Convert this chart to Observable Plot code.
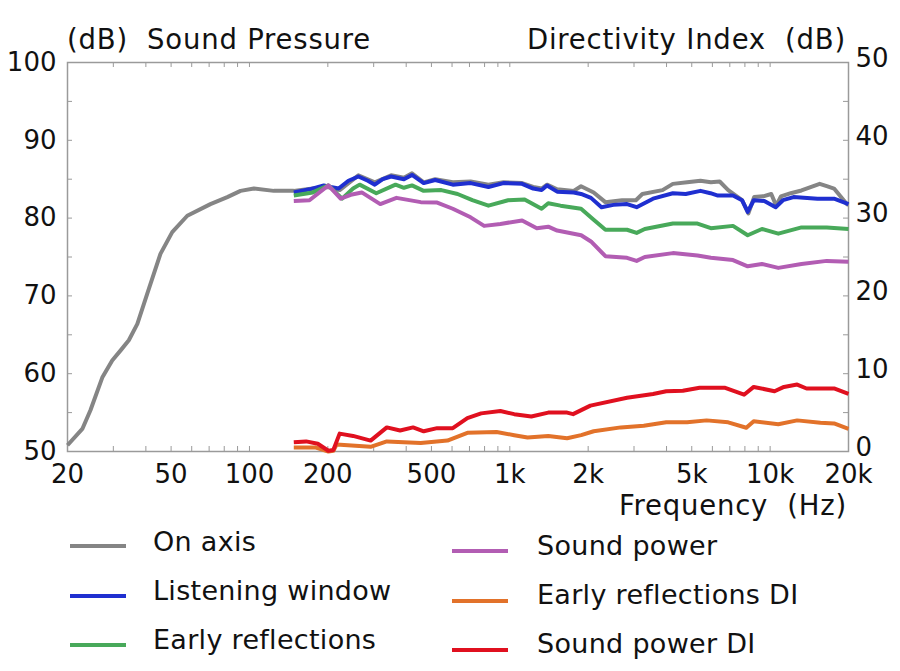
<!DOCTYPE html>
<html>
<head>
<meta charset="utf-8">
<script src="https://cdn.jsdelivr.net/npm/d3@7"></script>
<script src="https://cdn.jsdelivr.net/npm/@observablehq/plot@0.6"></script>
<style>
  html, body { margin: 0; padding: 0; background: #fff; }
  #wrap { position: relative; width: 900px; height: 671px; font-family: "DejaVu Sans", Verdana, sans-serif; color: #111; }
  .lbl { position: absolute; font-size: 27px; white-space: pre; line-height: 1; }
  .ttl { font-size: 27.5px; letter-spacing: 0.8px; }
  .leg { letter-spacing: 0.3px; }
  .sw { position: absolute; height: 4px; width: 56px; }
</style>
</head>
<body>
<div id="wrap"></div>
<script>
// ---- data (frequency Hz, level dB) ----
const onAxis = [[20,50.8],[22.8,52.9],[24.5,55.3],[27.2,59.5],[29.7,61.7],[32,63],[34.4,64.3],[37.1,66.4],[40.5,70.3],[45.5,75.4],[50.5,78.2],[57.7,80.3],[70.8,81.8],[82.2,82.7],[92.4,83.5],[104,83.8],[124,83.5],[148,83.5],[175,83.8],[200,84.0],[222,83.6],[262,85.5],[303,84.6],[350,85.5],[392,85.2],[421,85.75],[467,84.6],[517,85.0],[604,84.6],[707,84.7],[828,84.3],[945,84.6],[1115,84.5],[1230,84.0],[1325,83.8],[1390,84.3],[1520,83.7],[1760,83.5],[1878,84.1],[2100,83.3],[2328,82.05],[2700,82.3],[3050,82.3],[3230,83.1],[3860,83.6],[4230,84.4],[4800,84.6],[5400,84.8],[5920,84.6],[6400,84.7],[6900,83.6],[7800,82.3],[8250,80.6],[8680,82.7],[9400,82.8],[10100,83.1],[10550,81.6],[11000,82.8],[12000,83.2],[13200,83.55],[15500,84.4],[16500,84.1],[17600,83.8],[19700,81.8],[20000,81.7]];
const listeningWindow = [[148,83.3],[170,83.7],[193,84.2],[205,84.0],[220,83.8],[240,84.8],[262,85.35],[285,84.8],[303,84.3],[325,85.0],[350,85.35],[392,85.0],[421,85.55],[467,84.5],[517,84.9],[604,84.3],[707,84.5],[828,84.0],[945,84.5],[1115,84.4],[1230,83.8],[1325,83.6],[1390,84.2],[1520,83.4],[1760,83.3],[1878,83.1],[2050,82.6],[2250,81.4],[2500,81.7],[2820,81.8],[3070,81.4],[3550,82.5],[4230,83.2],[4740,83.1],[5400,83.5],[5900,83.2],[6300,82.9],[7200,82.9],[7800,82.3],[8200,80.8],[8650,82.3],[9500,82.2],[10500,81.4],[11200,82.3],[12300,82.7],[15200,82.5],[17600,82.5],[20000,81.8]];
const earlyReflections = [[148,82.9],[175,83.3],[201,84.2],[227,82.5],[250,83.8],[265,84.3],[307,83.2],[364,84.3],[392,83.9],[421,84.2],[467,83.5],[546,83.6],[630,83.1],[718,82.3],[828,81.6],[985,82.3],[1140,82.4],[1325,81.2],[1405,81.9],[1566,81.6],[1878,81.2],[2100,79.8],[2330,78.5],[2820,78.5],[3070,78.1],[3300,78.6],[4230,79.3],[5260,79.3],[5920,78.7],[7200,79.0],[8200,77.8],[9300,78.6],[10750,78.0],[13200,78.8],[16500,78.8],[20000,78.6]];
const soundPower = [[148,82.2],[170,82.3],[201,84.2],[224,82.5],[245,83.0],[270,83.3],[318,81.8],[367,82.6],[455,82.05],[526,82.0],[604,81.2],[707,80.1],[797,79.0],[920,79.25],[1115,79.7],[1270,78.7],[1405,78.9],[1520,78.4],[1880,77.8],[2050,77.0],[2330,75.1],[2820,74.9],[3070,74.5],[3300,75.0],[4230,75.5],[5260,75.2],[5920,74.9],[7200,74.6],[8200,73.8],[9300,74.1],[10750,73.6],[13200,74.1],[16500,74.5],[20000,74.4]];
// directivity index values (right axis, dB 0-50)
const earlyReflectionsDI = [[148,0.5],[180,0.5],[201,0.0],[210,0.1],[216,0.9],[292,0.6],[337,1.3],[455,1.1],[576,1.4],[687,2.4],[890,2.5],[1040,2.1],[1170,1.8],[1405,2.0],[1660,1.7],[1880,2.1],[2100,2.6],[2670,3.1],[3270,3.3],[3990,3.75],[4800,3.75],[5700,4.0],[6900,3.75],[8100,3.05],[8650,3.9],[10750,3.5],[12700,4.0],[15600,3.7],[17600,3.6],[20000,2.9]];
const soundPowerDI = [[148,1.2],[165,1.3],[183,1.0],[201,0.1],[210,0.2],[222,2.3],[250,2.0],[292,1.4],[337,3.1],[379,2.7],[425,3.1],[467,2.6],[526,3.0],[604,3.0],[687,4.3],[776,4.9],[920,5.2],[1040,4.8],[1210,4.5],[1405,5.0],[1660,5.0],[1750,4.8],[2040,5.9],[2820,6.9],[3550,7.4],[3990,7.75],[4620,7.8],[5360,8.2],[6680,8.2],[7940,7.3],[8650,8.3],[10400,7.75],[11300,8.3],[12700,8.6],[13800,8.1],[17600,8.1],[20000,7.4]];

const seriesNames = ["On axis","Listening window","Early reflections","Sound power","Early reflections DI","Sound power DI"];
const seriesColors = ["#858585","#1f2fd0","#48a95a","#b25db3","#e2722a","#e0101f"];

const xTickValues = [20,50,100,200,500,1000,2000,5000,10000,20000];
const xTickLabels = ["20","50","100","200","500","1k","2k","5k","10k","20k"];
const yTickValues = [50,60,70,80,90,100];
const diOffset = 50; // right axis 0..50 aligned with left 50..100
const xMinorTicks = [20,30,40,50,60,70,80,90,100,200,300,400,500,600,700,800,900,1000,2000,3000,4000,5000,6000,7000,8000,9000,10000,20000];
const yMinorTicks = [55,60,65,70,75,80,85,90,95];

const titleLeft = "(dB)  Sound Pressure";
const titleRight = "Directivity Index  (dB)";
const xLabel = "Frequency  (Hz)";

// ---- chart ----
const W = 900, H = 520, mL = 67, mR = 52, mT = 62, mB = 69;
const innerH = H - mT - mB, innerW = W - mL - mR;
const frameColor = "#9a9a9a";
const di = d => [d[0], d[1] + diOffset];
const all = [onAxis, listeningWindow, earlyReflections, soundPower, earlyReflectionsDI.map(di), soundPowerDI.map(di)];
const xTickRows = xTickValues.map((v, i) => ({v, label: xTickLabels[i]}));

const chart = Plot.plot({
  width: W, height: H,
  marginLeft: mL, marginRight: mR, marginTop: mT, marginBottom: mB,
  style: {fontFamily: "DejaVu Sans, Verdana, sans-serif", fontSize: "26px", color: "#111", background: "#fff"},
  x: {type: "log", domain: [20, 20000], axis: null},
  y: {domain: [50, 100]},
  marks: [
    Plot.ruleX(xMinorTicks, {x: d => d, stroke: frameColor, strokeWidth: 1, insetTop: innerH - 5}),
    Plot.ruleX(xMinorTicks, {x: d => d, stroke: frameColor, strokeWidth: 1, insetBottom: innerH - 5}),
    Plot.ruleY(yMinorTicks, {y: d => d, stroke: frameColor, strokeWidth: 1, insetRight: innerW - 5}),
    Plot.ruleY(yMinorTicks, {y: d => d, stroke: frameColor, strokeWidth: 1, insetLeft: innerW - 5}),
    Plot.frame({stroke: frameColor, strokeWidth: 1.5}),
    Plot.text(xTickRows, {x: "v", text: "label", frameAnchor: "bottom", dy: 13, lineAnchor: "top", fontSize: 26, fill: "#111"}),
    Plot.axisY({anchor: "left", ticks: yTickValues, tickSize: 0, tickPadding: 11, label: null, fontSize: 26}),
    Plot.axisY({anchor: "right", ticks: yTickValues, tickFormat: d => String(d - diOffset), tickSize: 0, tickPadding: 7, label: null, fontSize: 26, dy: -4}),
    ...all.map((s, i) => Plot.line(s, {x: d => d[0], y: d => d[1], stroke: seriesColors[i], strokeWidth: 4, strokeLinejoin: "round", strokeLinecap: "butt"}))
  ]
});

const wrap = document.getElementById("wrap");
chart.style.position = "absolute";
chart.style.left = "0px";
chart.style.top = "0px";
wrap.appendChild(chart);

function addLabel(text, css, cls) {
  const d = document.createElement("div");
  d.className = "lbl" + (cls ? " " + cls : "");
  d.textContent = text;
  Object.assign(d.style, css);
  wrap.appendChild(d);
  return d;
}
addLabel(titleLeft, {left: "67px", top: "26px"}, "ttl");
addLabel(titleRight, {right: "54px", top: "26px"}, "ttl");
addLabel(xLabel, {right: "53px", top: "492px"}, "ttl");

// legend
const legendPos = [
  {sx: 70, sy: 544, tx: 153, ty: 528},
  {sx: 70, sy: 594, tx: 153, ty: 577},
  {sx: 70, sy: 643, tx: 153, ty: 626},
  {sx: 452, sy: 549, tx: 537, ty: 532},
  {sx: 452, sy: 599, tx: 537, ty: 581},
  {sx: 452, sy: 648, tx: 537, ty: 630}
];
seriesNames.forEach((name, i) => {
  const p = legendPos[i];
  const s = document.createElement("div");
  s.className = "sw";
  Object.assign(s.style, {left: p.sx + "px", top: p.sy + "px", background: seriesColors[i]});
  wrap.appendChild(s);
  addLabel(name, {left: p.tx + "px", top: p.ty + "px"}, "leg");
});
</script>
</body>
</html>
